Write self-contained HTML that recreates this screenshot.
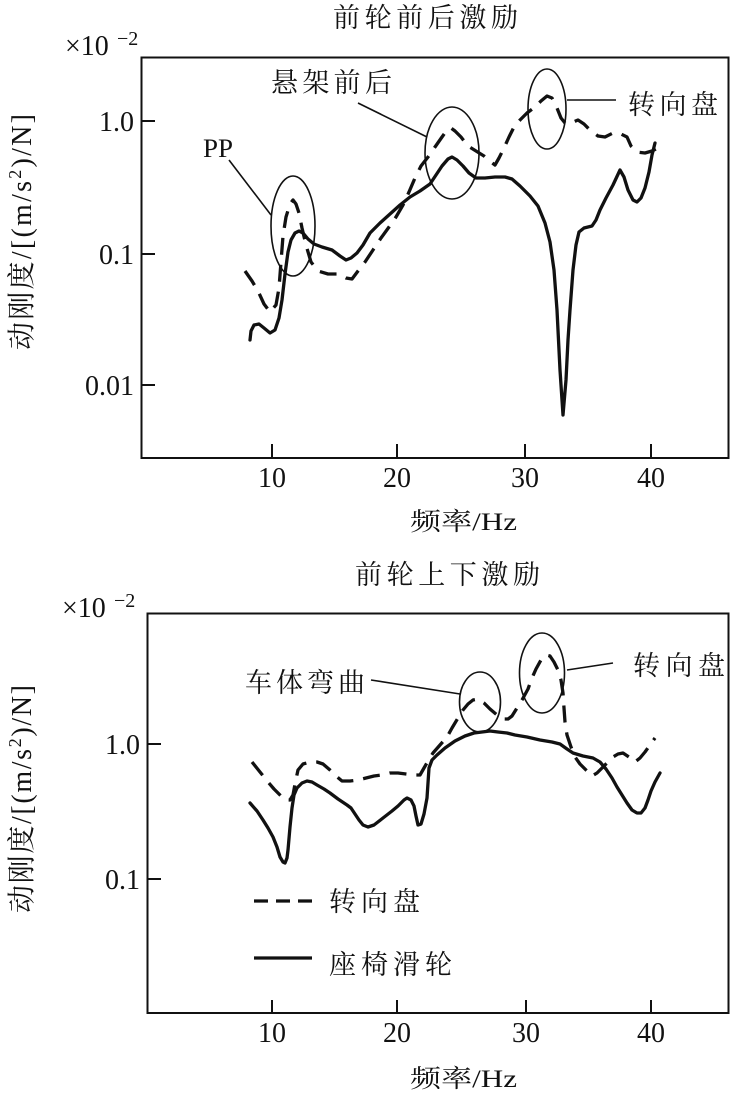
<!DOCTYPE html>
<html>
<head>
<meta charset="utf-8">
<style>
html,body{margin:0;padding:0;background:#fff;}
svg{display:block;}
.cjk{font-family:"Liberation Serif","Noto Serif CJK SC",serif;fill:#111;}
.lat{font-family:"Liberation Serif",serif;fill:#111;}
</style>
</head>
<body>
<svg width="731" height="1093" viewBox="0 0 731 1093" xmlns="http://www.w3.org/2000/svg">
<rect x="0" y="0" width="731" height="1093" fill="#fff"/>

<!-- ================= TOP CHART ================= -->
<text class="cjk" x="333" y="27" font-size="27" textLength="185" lengthAdjust="spacing">前轮前后激励</text>
<text class="lat" x="65" y="55" font-size="28">×10</text>
<text class="lat" x="117" y="45" font-size="20">−2</text>

<rect x="141.5" y="57.5" width="587" height="400.5" fill="none" stroke="#111" stroke-width="2"/>
<g stroke="#111" stroke-width="2">
<line x1="141" y1="121" x2="155" y2="121"/>
<line x1="141" y1="254" x2="155" y2="254"/>
<line x1="141" y1="385" x2="155" y2="385"/>
<line x1="272" y1="458" x2="272" y2="444"/>
<line x1="397" y1="458" x2="397" y2="444"/>
<line x1="525" y1="458" x2="525" y2="444"/>
<line x1="651" y1="458" x2="651" y2="444"/>
</g>
<g class="lat" font-size="28" text-anchor="end">
<text x="134" y="131">1.0</text>
<text x="134" y="264">0.1</text>
<text x="134" y="395">0.01</text>
</g>
<g class="lat" font-size="28" text-anchor="middle">
<text x="272" y="487">10</text>
<text x="397" y="487">20</text>
<text x="525" y="487">30</text>
<text x="651" y="487">40</text>
</g>
<text class="cjk" x="410" y="530" font-size="25" textLength="107" lengthAdjust="spacingAndGlyphs">频率/Hz</text>
<text class="cjk" transform="translate(31,232) rotate(-90)" text-anchor="middle" font-size="28" textLength="236" lengthAdjust="spacing">动刚度/[(m/s<tspan font-size="18" dy="-10">2</tspan><tspan dy="10">)/N]</tspan></text>

<!-- annotations top -->
<text class="lat" x="203" y="157" font-size="26" textLength="30" lengthAdjust="spacingAndGlyphs">PP</text>
<text class="cjk" x="271" y="92" font-size="27" textLength="121" lengthAdjust="spacing">悬架前后</text>
<text class="cjk" x="628" y="114" font-size="27" textLength="90" lengthAdjust="spacing">转向盘</text>
<g fill="none" stroke="#111" stroke-width="1.6">
<line x1="229" y1="160" x2="271" y2="215"/>
<line x1="358" y1="103" x2="427" y2="137"/>
<line x1="567" y1="100" x2="616" y2="100"/>
<ellipse cx="293" cy="226" rx="22" ry="50"/>
<ellipse cx="452" cy="153" rx="27" ry="46"/>
<ellipse cx="547" cy="109" rx="19" ry="40"/>
</g>

<!-- top solid -->
<polyline fill="none" stroke="#111" stroke-width="3.3" stroke-linejoin="round" stroke-linecap="round"
points="250,340 251,331 254,325 259,324 264,328 270,333 275,330 279,318 282,300 285,274 288,252 291,240 295,233 299,231 303,233 308,239 314,244 322,247 332,250 340,256 346,260 351,258 357,253 363,245 370,233 380,223 390,214 400,205 410,197 420,191 430,184 436,175 442,166 448,159 452,157 457,160 463,166 469,173 476,178 485,178 495,177 505,177 512,179 520,186 530,196 538,206 545,223 550,242 554,270 557,310 560,370 563,415 566,380 568,340 570,310 573,270 576,245 579,232 584,228 592,226 596,220 600,210 606,198 613,185 620,170 624,177 628,190 633,200 637,202 641,198 645,188 649,172 652,155 655,143"/>

<!-- top dashed -->
<polyline fill="none" stroke="#111" stroke-width="3.3" stroke-linejoin="round" stroke-dasharray="17 10"
points="245,271 252,281 258,291 264,304 270,312 276,305 279,288 281,262 283,236 286,217 290,204 293,200 296,204 299,213 302,228 306,245 311,262 318,271 328,274 338,274 346,278 352,279 358,271 365,262 373,250 381,238 389,227 396,217 403,205 409,192 415,178 421,166 428,157 435,147 442,137 447,130 451,128 455,131 461,137 468,146 476,151 484,156 491,162 495,165 499,158 504,148 509,137 514,127 520,120 527,113 535,107 541,101 547,96 552,98 557,108 561,118 565,123 571,123 578,120 584,124 590,130 598,136 605,137 613,133 621,134 627,137 631,146 637,152 645,153 652,151 656,149"/>

<!-- ================= BOTTOM CHART ================= -->
<text class="cjk" x="355" y="584" font-size="27" textLength="185" lengthAdjust="spacing">前轮上下激励</text>
<text class="lat" x="62" y="617" font-size="28">×10</text>
<text class="lat" x="114" y="607" font-size="20">−2</text>

<rect x="147.5" y="613.5" width="581" height="399.5" fill="none" stroke="#111" stroke-width="2"/>
<g stroke="#111" stroke-width="2">
<line x1="147" y1="744" x2="161" y2="744"/>
<line x1="147" y1="879" x2="161" y2="879"/>
<line x1="272" y1="1013" x2="272" y2="1000"/>
<line x1="397" y1="1013" x2="397" y2="1000"/>
<line x1="526" y1="1013" x2="526" y2="1000"/>
<line x1="651" y1="1013" x2="651" y2="1000"/>
</g>
<g class="lat" font-size="28" text-anchor="end">
<text x="140" y="754">1.0</text>
<text x="140" y="889">0.1</text>
</g>
<g class="lat" font-size="28" text-anchor="middle">
<text x="272" y="1042">10</text>
<text x="397" y="1042">20</text>
<text x="526" y="1042">30</text>
<text x="651" y="1042">40</text>
</g>
<text class="cjk" x="410" y="1087" font-size="25" textLength="107" lengthAdjust="spacingAndGlyphs">频率/Hz</text>
<text class="cjk" transform="translate(31,799) rotate(-90)" text-anchor="middle" font-size="28" textLength="228" lengthAdjust="spacing">动刚度/[(m/s<tspan font-size="18" dy="-10">2</tspan><tspan dy="10">)/N]</tspan></text>

<!-- annotations bottom -->
<text class="cjk" x="245" y="692" font-size="27" textLength="120" lengthAdjust="spacing">车体弯曲</text>
<text class="cjk" x="633" y="675" font-size="27" textLength="92" lengthAdjust="spacing">转向盘</text>
<g fill="none" stroke="#111" stroke-width="1.6">
<line x1="371" y1="680" x2="460" y2="694"/>
<line x1="567" y1="670" x2="613" y2="663"/>
<ellipse cx="480" cy="702" rx="20.5" ry="30"/>
<ellipse cx="542" cy="673" rx="22.5" ry="40"/>
</g>

<!-- legend -->
<line x1="254" y1="901" x2="312" y2="901" stroke="#111" stroke-width="3.3" stroke-dasharray="14 8"/>
<text class="cjk" x="329" y="911" font-size="27" textLength="91" lengthAdjust="spacing">转向盘</text>
<line x1="254" y1="958" x2="312" y2="958" stroke="#111" stroke-width="3.3"/>
<text class="cjk" x="329" y="974" font-size="27" textLength="123" lengthAdjust="spacing">座椅滑轮</text>

<!-- bottom solid -->
<polyline fill="none" stroke="#111" stroke-width="3.3" stroke-linejoin="round" stroke-linecap="round"
points="250,803 257,811 263,820 268,828 273,837 277,847 280,857 283,862 285,863 287,858 288,850 290,827 292,808 294,795 297,788 302,783 307,781 312,782 317,785 324,789 330,793 338,799 347,805 351,808 355,814 359,820 363,825 368,827 374,825 383,818 392,811 398,806 404,800 407,798 411,800 414,806 416,816 418,825 421,824 424,814 427,798 429,768 432,760 437,755 445,748 455,741 465,736 474,733 482,732 490,731 498,732 507,733 515,735 527,737 540,740 552,742 560,744 567,749 573,753 583,756 593,758 600,762 606,769 612,778 617,787 622,795 627,803 632,810 637,813 641,813 645,808 648,800 651,791 655,782 660,773"/>

<!-- bottom dashed -->
<polyline fill="none" stroke="#111" stroke-width="3.3" stroke-linejoin="round" stroke-dasharray="17 10"
points="252,762 260,772 268,782 274,789 280,795 285,800 290,800 293,795 295,784 298,770 303,764 310,762 317,762 323,764 330,770 336,776 342,781 350,781 358,780 366,778 374,776 382,775 390,773 398,773 406,774 414,775 420,775 424,768 428,761 433,753 440,745 447,737 452,728 458,718 463,710 468,704 473,700 478,699 484,703 490,709 497,715 503,719 508,719 512,716 517,708 522,700 528,689 532,678 536,669 541,660 546,655 550,656 554,662 558,670 561,680 563,693 564,708 565,722 567,735 571,747 575,757 580,764 586,770 592,776 597,773 602,768 608,762 613,757 618,754 623,753 629,757 635,762 640,758 645,752 650,745 655,738"/>
</svg>
</body>
</html>
